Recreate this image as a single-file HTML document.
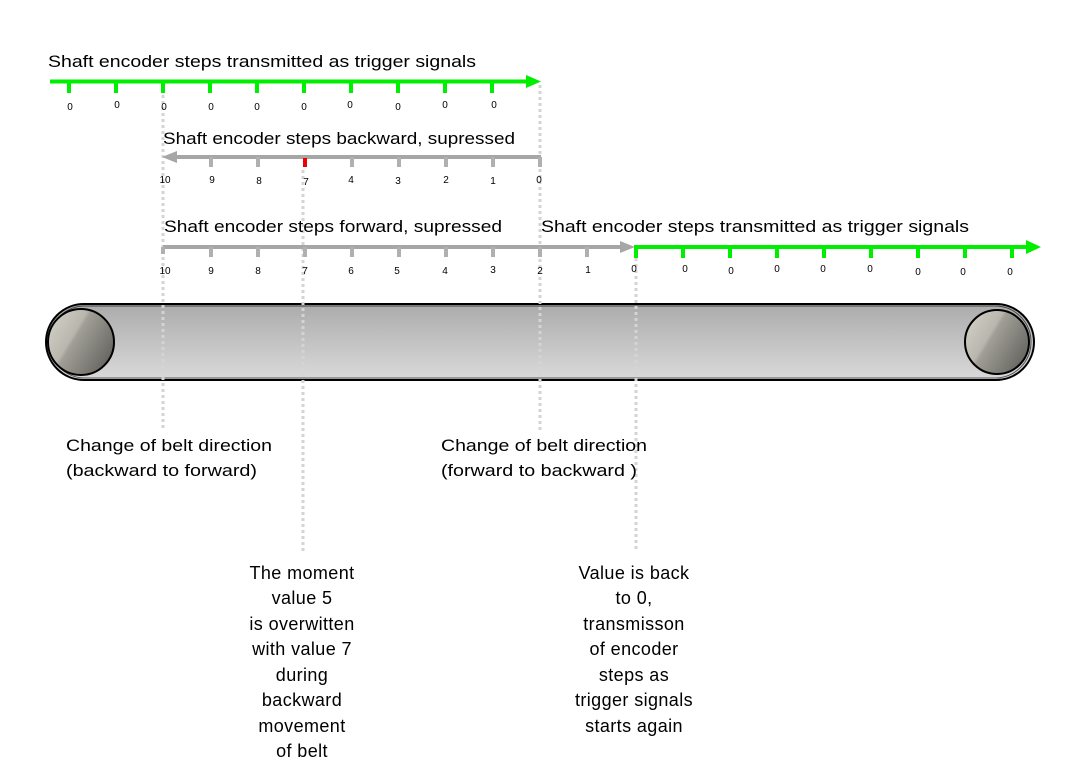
<!DOCTYPE html>
<html><head><meta charset="utf-8"><style>
html,body{margin:0;padding:0;background:#fff;}
svg{display:block;}
text{font-family:"Liberation Sans",sans-serif;fill:#000;}
.t{font-size:17px;}
.n{font-size:10px;text-anchor:middle;}
.c{font-size:18px;text-anchor:middle;letter-spacing:0.4px;}
</style></head><body>
<svg width="1085" height="783" viewBox="0 0 1085 783" xmlns="http://www.w3.org/2000/svg">
<defs>
<linearGradient id="belt" x1="0" y1="0" x2="0" y2="1">
<stop offset="0" stop-color="#ababab"/><stop offset="1" stop-color="#dadada"/>
</linearGradient>
<linearGradient id="roll" x1="0" y1="0" x2="1" y2="0.6">
<stop offset="0" stop-color="#d8d6cc"/><stop offset="0.45" stop-color="#b9b7ad"/><stop offset="0.5" stop-color="#a09e96"/><stop offset="1" stop-color="#6a6964"/>
</linearGradient>
</defs>

<rect x="46" y="304" width="988" height="76" rx="38" ry="38" fill="url(#belt)" stroke="#000" stroke-width="2"/>
<rect x="49" y="306" width="982" height="72" rx="36" ry="36" fill="none" stroke="#000" stroke-width="1" opacity="0.6"/>
<circle cx="81" cy="342" r="33" fill="url(#roll)" stroke="#000" stroke-width="2"/>
<circle cx="997" cy="342" r="32" fill="url(#roll)" stroke="#000" stroke-width="2"/>

<g stroke="#d4d4d4" stroke-width="3" stroke-dasharray="3 3">
<line x1="163" y1="95" x2="163" y2="428"/>
<line x1="303" y1="170" x2="303" y2="552"/>
<line x1="540" y1="85" x2="540" y2="432"/>
<line x1="636" y1="258" x2="636" y2="552"/>
</g>

<text class="t" x="48" y="67" textLength="428" lengthAdjust="spacingAndGlyphs">Shaft encoder steps transmitted as  trigger signals</text>
<line x1="50" y1="81.5" x2="528" y2="81.5" stroke="#00ee00" stroke-width="4"/>
<polygon points="526,75 541,81.5 526,88" fill="#00ee00"/>
<g stroke="#00ee00" stroke-width="4">
<line x1="69" y1="81" x2="69" y2="93"/><line x1="116" y1="81" x2="116" y2="93"/><line x1="163" y1="81" x2="163" y2="93"/><line x1="210" y1="81" x2="210" y2="93"/><line x1="257" y1="81" x2="257" y2="93"/><line x1="304" y1="81" x2="304" y2="93"/><line x1="351" y1="81" x2="351" y2="93"/><line x1="398" y1="81" x2="398" y2="93"/><line x1="445" y1="81" x2="445" y2="93"/><line x1="492" y1="81" x2="492" y2="93"/>
</g>
<text class="n" x="70" y="110">0</text><text class="n" x="117" y="108">0</text><text class="n" x="164" y="110">0</text><text class="n" x="211" y="110">0</text><text class="n" x="257" y="110">0</text><text class="n" x="304" y="110">0</text><text class="n" x="350" y="108">0</text><text class="n" x="398" y="110">0</text><text class="n" x="445" y="108">0</text><text class="n" x="494" y="108">0</text>

<text class="t" x="163" y="144" textLength="352" lengthAdjust="spacingAndGlyphs">Shaft encoder steps backward, supressed</text>
<line x1="175" y1="157" x2="541" y2="157" stroke="#a6a6a6" stroke-width="4"/>
<polygon points="177,151 162,157 177,163" fill="#a6a6a6"/>
<g stroke="#b0b0b0" stroke-width="4">
<line x1="211" y1="157" x2="211" y2="167"/><line x1="258" y1="157" x2="258" y2="167"/><line x1="352" y1="157" x2="352" y2="167"/><line x1="399" y1="157" x2="399" y2="167"/><line x1="446" y1="157" x2="446" y2="167"/><line x1="493" y1="157" x2="493" y2="167"/><line x1="540" y1="157" x2="540" y2="167"/>
</g>
<line x1="305" y1="158" x2="305" y2="167" stroke="#ee0000" stroke-width="4"/>
<text class="n" x="165" y="183">10</text><text class="n" x="212" y="183">9</text><text class="n" x="259" y="184">8</text><text class="n" x="306" y="185">7</text><text class="n" x="351" y="183">4</text><text class="n" x="398" y="184">3</text><text class="n" x="446" y="183">2</text><text class="n" x="493" y="184">1</text><text class="n" x="539" y="183">0</text>

<text class="t" x="164" y="232" textLength="338" lengthAdjust="spacingAndGlyphs">Shaft encoder steps forward, supressed</text>
<line x1="163" y1="247" x2="622" y2="247" stroke="#a6a6a6" stroke-width="4"/>
<polygon points="620,241 635,247 620,253" fill="#a6a6a6"/>
<g stroke="#b0b0b0" stroke-width="4">
<line x1="163" y1="247" x2="163" y2="254"/><line x1="211" y1="247" x2="211" y2="257"/><line x1="258" y1="247" x2="258" y2="257"/><line x1="305" y1="247" x2="305" y2="257"/><line x1="352" y1="247" x2="352" y2="257"/><line x1="399" y1="247" x2="399" y2="257"/><line x1="446" y1="247" x2="446" y2="257"/><line x1="493" y1="247" x2="493" y2="257"/><line x1="540" y1="247" x2="540" y2="257"/><line x1="587" y1="247" x2="587" y2="257"/>
</g>
<text class="n" x="165" y="274">10</text><text class="n" x="211" y="274">9</text><text class="n" x="258" y="274">8</text><text class="n" x="305" y="274">7</text><text class="n" x="351" y="274">6</text><text class="n" x="397" y="274">5</text><text class="n" x="445" y="274">4</text><text class="n" x="493" y="273">3</text><text class="n" x="540" y="274">2</text><text class="n" x="588" y="273">1</text>

<text class="t" x="541" y="232" textLength="428" lengthAdjust="spacingAndGlyphs">Shaft encoder steps transmitted as  trigger signals</text>
<line x1="634" y1="247" x2="1028" y2="247" stroke="#00ee00" stroke-width="4"/>
<polygon points="1026,240 1041,247 1026,254" fill="#00ee00"/>
<g stroke="#00ee00" stroke-width="4">
<line x1="636" y1="247" x2="636" y2="258"/><line x1="683" y1="247" x2="683" y2="258"/><line x1="730" y1="247" x2="730" y2="258"/><line x1="777" y1="247" x2="777" y2="258"/><line x1="824" y1="247" x2="824" y2="258"/><line x1="871" y1="247" x2="871" y2="258"/><line x1="918" y1="247" x2="918" y2="258"/><line x1="965" y1="247" x2="965" y2="258"/><line x1="1012" y1="247" x2="1012" y2="258"/>
</g>
<text class="n" x="634" y="272">0</text><text class="n" x="685" y="272">0</text><text class="n" x="731" y="274">0</text><text class="n" x="777" y="272">0</text><text class="n" x="823" y="272">0</text><text class="n" x="870" y="272">0</text><text class="n" x="918" y="275">0</text><text class="n" x="963" y="275">0</text><text class="n" x="1010" y="275">0</text>

<text class="t" x="66" y="451" textLength="206" lengthAdjust="spacingAndGlyphs">Change of belt direction</text>
<text class="t" x="66" y="476" textLength="191" lengthAdjust="spacingAndGlyphs">(backward to forward)</text>
<text class="t" x="441" y="451" textLength="206" lengthAdjust="spacingAndGlyphs">Change of belt direction</text>
<text class="t" x="441" y="476" textLength="196" lengthAdjust="spacingAndGlyphs">(forward to backward )</text>

<text class="c" x="302" y="579">The moment</text>
<text class="c" x="302" y="604">value 5</text>
<text class="c" x="302" y="630">is overwitten</text>
<text class="c" x="302" y="655">with value 7</text>
<text class="c" x="302" y="681">during</text>
<text class="c" x="302" y="706">backward</text>
<text class="c" x="302" y="732">movement</text>
<text class="c" x="302" y="757">of belt</text>
<text class="c" x="634" y="579">Value is back</text>
<text class="c" x="634" y="604">to 0,</text>
<text class="c" x="634" y="630">transmisson</text>
<text class="c" x="634" y="655">of encoder</text>
<text class="c" x="634" y="681">steps as</text>
<text class="c" x="634" y="706">trigger signals</text>
<text class="c" x="634" y="732">starts again</text>
</svg>
</body></html>
